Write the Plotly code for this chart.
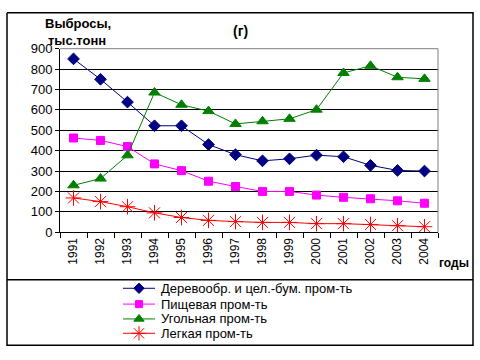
import plotly.graph_objects as go

years = ["1991","1992","1993","1994","1995","1996","1997","1998","1999","2000","2001","2002","2003","2004"]
wood = [850, 750, 638, 522, 522, 430, 380, 350, 360, 378, 370, 328, 303, 300]
food = [462, 450, 420, 335, 302, 250, 224, 200, 200, 182, 171, 164, 154, 142]
coal = [230, 263, 377, 685, 625, 594, 531, 544, 556, 601, 781, 816, 760, 752]
light = [168, 150, 125, 95, 72, 58, 52, 48, 48, 42, 42, 38, 32, 27]

names = ["Деревообр. и цел.-бум. пром-ть", "Пищевая пром-ть", "Угольная пром-ть", "Легкая пром-ть"]
series = [wood, food, coal, light]
colors = ["#000080", "#FF00FF", "#008000", "#FF0000"]
symbols = ["diamond", "square", "triangle-up", "asterisk-open"]
sizes = [9, 8, 10, 13]

W, H = 480, 360
L, R, T, B = 60, 438, 43.5, 235

font = "Liberation Sans, Arial, sans-serif"
fig = go.Figure()

def px_line(xs, ys, color, width):
    fig.add_trace(go.Scatter(x=xs, y=ys, mode="lines", xaxis="x2", yaxis="y2", showlegend=False,
                             hoverinfo="skip", line=dict(color=color, width=width)))

# frame (pixel coordinate overlay)
px_line([7, 473, 473, 7, 7], [6, 6, 353, 353, 6], "black", 1.5)
px_line([7, 473], [284.5, 284.5], "black", 1.5)
px_line([L, R, R], [T, T, B], "gray", 1)

for s, n, c, sym, sz in zip(series, names, colors, symbols, sizes):
    fig.add_trace(go.Scatter(x=years, y=s, name=n, mode="lines+markers", showlegend=False,
                             line=dict(color=c, width=1),
                             marker=dict(symbol=sym, size=sz, color=c, line=dict(color=c, width=1))))

# manual legend
leg_rows = [293.5, 310, 325.5, 340.5]
for n, c, sym, sz, yy in zip(names, colors, symbols, sizes, leg_rows):
    px_line([123, 155], [yy, yy], c, 1)
    fig.add_trace(go.Scatter(x=[139], y=[yy], mode="markers", xaxis="x2", yaxis="y2",
                             showlegend=False, hoverinfo="skip",
                             marker=dict(symbol=sym, size=sz - 1, color=c, line=dict(color=c, width=1))))
    fig.add_annotation(text=n, xref="x2", yref="y2", x=159, y=yy, xanchor="left", yanchor="middle",
                       showarrow=False, font=dict(family=font, size=13, color="black"))

fig.update_layout(
    width=W, height=H,
    margin=dict(l=0, r=0, t=0, b=0, pad=0),
    paper_bgcolor="white", plot_bgcolor="rgba(0,0,0,0)",
    font=dict(family=font, size=12, color="black"),
    showlegend=False,
    xaxis=dict(type="category", domain=[L / W, R / W], anchor="y",
               showgrid=False, showline=True, linecolor="black", linewidth=1,
               ticks="outside", ticklen=5, tickcolor="black", tickson="boundaries",
               tickangle=-90, tickfont=dict(family=font, size=12, color="black"),
               range=[-0.5, 13.5]),
    yaxis=dict(domain=[1 - B / H, 1 - T / H], anchor="x",
               range=[0, 900], dtick=100, showgrid=True, gridcolor="black", gridwidth=1,
               showline=True, linecolor="black", linewidth=1, ticks="outside", ticklen=4,
               tickcolor="black", tickfont=dict(family=font, size=13, color="black"),
               zeroline=False),
    xaxis2=dict(domain=[0, 1], anchor="y2", range=[0, W], visible=False, fixedrange=True),
    yaxis2=dict(domain=[0, 1], anchor="x2", range=[H, 0], visible=False, fixedrange=True),
)
for text, x, y, size in [("<b>(г)</b>", 240, 25, 14), ("<b>Выбросы,</b>", 43, 17, 13),
                         ("<b>тыс.тонн</b>", 46, 35, 13), ("<b>годы</b>", 437, 267, 12)]:
    fig.add_annotation(text=text, xref="x2", yref="y2", x=x, y=y,
                       xanchor="center" if x == 240 else "left", yanchor="middle",
                       showarrow=False, font=dict(family=font, size=size, color="black"))

fig.write_html("out.html", config={"displayModeBar": False},
               post_script="document.body.style.margin='0';document.body.style.overflow='hidden';")
